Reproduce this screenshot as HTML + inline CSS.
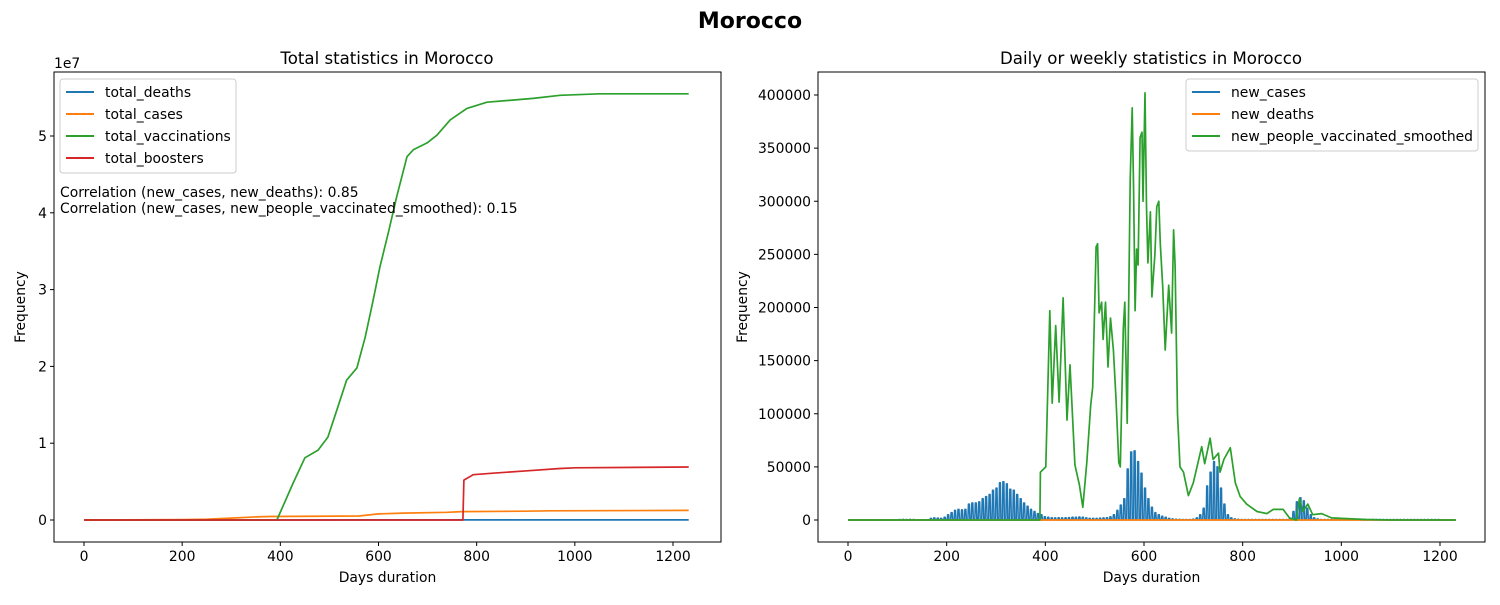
<!DOCTYPE html>
<html><head><meta charset="utf-8"><style>
body{margin:0;background:#fff}
svg text{font-family:"DejaVu Sans","Liberation Sans",sans-serif}
</style></head><body>
<svg id="c" width="1500" height="600" xmlns="http://www.w3.org/2000/svg">
<rect width="1500" height="600" fill="#fff"/>
<text x="750" y="28" text-anchor="middle" font-size="22" font-weight="bold">Morocco</text>
<text x="387" y="64" text-anchor="middle" font-size="16.6">Total statistics in Morocco</text>
<text x="1151" y="64" text-anchor="middle" font-size="16.6">Daily or weekly statistics in Morocco</text>
<g id="L"></g><g id="R"></g>
</svg>
<script>
// ---- left chart data (day, value) ----
const vaccDays=[0,393,426,450,477,497,515,535,556,573,589,603,620,637,658,671,699,719,746,780,821,915,970,1050,1232];
const vaccVals=[0,0,4.8e6,8.1e6,9.1e6,10.8e6,14.3e6,18.2e6,19.8e6,23.8e6,28.6e6,33e6,37.4e6,42.1e6,47.3e6,48.2e6,49.1e6,50.1e6,52.1e6,53.6e6,54.4e6,54.9e6,55.3e6,55.5e6,55.5e6];
const boostDays=[0,772,774,793,833,903,970,1000,1232];
const boostVals=[0,0,5.2e6,5.9e6,6.1e6,6.4e6,6.7e6,6.8e6,6.9e6];
const casesDays=[0,200,250,300,350,380,560,600,650,740,770,900,950,1232];
const casesVals=[0,50000,100000,250000,400000,450000,520000,800000,900000,1000000,1100000,1150000,1200000,1250000];
const deathsDays=[0,300,600,800,1232];
const deathsVals=[0,5000,10000,15000,16300];
// ---- right chart data ----
const weeklyStart=105;
const newCases=[500,600,500,600,500,300,200,200,300,1500,2000,1800,1500,2500,5000,7000,9000,10000,9500,10000,15000,16000,16000,17000,20000,22000,24000,28000,30000,35000,36000,34000,29000,28000,24000,20000,16000,13000,10000,8000,6000,5000,3000,2500,2200,2000,2200,2000,2100,2300,2500,2500,2800,2500,2000,1500,1500,1500,1800,2000,2200,3000,5000,9000,14000,20000,48000,64000,65000,55000,44000,30000,20000,12000,7000,5000,3500,2500,1500,1000,700,600,500,500,500,800,2000,5000,11000,32000,45000,55000,50000,30000,15000,5000,2000,1000,700,500,500,500,500,500,500,500,500,500,500,500,500,500,500,1500,8000,17000,21000,18000,11000,5000,2000,1000,500,500,500,500,500,500,500,500,500,500,500,500,500,500,500,500,500,500,500,500,500,500,500,500,500,500,500,500,500,500,500,500,500,500,500];
const newDeaths=[0,10,20,30,40,60,70,60,40,30,20,20,30,50,100,120,110,100,80,50,30,20,10,10,20,30,20,10,5,5,5,5,5,5,5,5,5,5,5,5,5,5,5,5,5,5,5,5,5,5,5,5,5,5,5,5,5,5,5,5,5,5,5,5,5,5,5,5,5,5,5,5,5,5,5,5,5,5,5,5,5,5,5,5,5,5,5,5,5,5,5,5,5,5,5,5,5,5,5,5,5,5,5,5,5,5,5,5,5,5,5,5,5,5,5,5,5,5,5,5,5,5,5,5,5,5,5,5,5,5,5,5,5,5,5,5,5,5,5,5,5,5,5,5,5,5,5,5,5,5,5,5,5,5,5,5,5,5,5,5,5];
const vacDays=[0,389,390,401,409,414,421,428,436,444,450,460,469,476,484,492,496,503,506,509,514,517,522,527,532,538,543,549,552,558,561,566,572,576,579,582,585,588,592,596,598,602,605,608,613,616,622,626,630,633,638,643,650,656,660,663,668,673,680,690,700,717,723,734,740,751,754,762,775,785,795,808,829,849,862,882,895,909,915,922,932,942,960,980,1000,1050,1100,1232];
const vacVals=[0,0,45000,50000,197000,110000,183000,111000,209000,94000,146000,52000,33000,12000,54000,108000,125000,257000,260000,195000,205000,170000,205000,144000,190000,160000,116000,54000,50000,180000,205000,91000,320000,388000,310000,197000,255000,240000,360000,365000,300000,402000,295000,242000,290000,210000,250000,295000,300000,260000,220000,160000,221000,176000,273000,240000,100000,50000,45000,23000,35000,69000,53000,77000,57000,63000,45000,57000,68000,35000,22000,15000,8000,6000,10000,10000,2000,0,20000,8000,15000,5000,6000,2000,1500,500,0,0];
const leftTicksY=[0,1,2,3,4,5];
const rightTicksY=[0,50000,100000,150000,200000,250000,300000,350000,400000];
const ticksX=[0,200,400,600,800,1000,1200];

const FS=13.9;
const NS="http://www.w3.org/2000/svg";
function mk(p,t,a){const e=document.createElementNS(NS,t);for(const k in a)e.setAttribute(k,a[k]);p.appendChild(e);return e;}
function frame(g,x0,x1,y0,y1,xs,ys,yt,fmt,side){
 mk(g,'rect',{x:x0,y:y0,width:x1-x0,height:y1-y0,fill:'none',stroke:'#000','stroke-width':1});
 ticksX.forEach(v=>{const x=xs(v);
  mk(g,'line',{x1:x,x2:x,y1:y1,y2:y1+4,stroke:'#000'});
  const l=mk(g,'text',{x:x,y:y1+19,'text-anchor':'middle','font-size':FS});l.textContent=v;
  
  
 });
 yt.forEach(v=>{const y=ys(v);
  mk(g,'line',{x1:x0-4,x2:x0,y1:y,y2:y,stroke:'#000'});
  const l=mk(g,'text',{x:x0-7,y:y+5,'text-anchor':'end','font-size':FS});l.textContent=fmt(v);
  
  
 });
 const xl=mk(g,'text',{x:(x0+x1)/2,y:582,'text-anchor':'middle','font-size':FS});xl.textContent='Days duration';
 
 
 const cy=(y0+y1)/2;const yl=mk(g,'text',{x:0,y:0,'text-anchor':'middle','font-size':FS,transform:`translate(${side},${cy}) rotate(-90)`});yl.textContent='Frequency';
 
 
}
function line(g,pts,col,name,w){const p=mk(g,'polyline',{points:pts.map(q=>q[0].toFixed(1)+','+q[1].toFixed(1)).join(' '),fill:'none',stroke:col,'stroke-width':w||1.7,'stroke-linejoin':'round'});
 
 }
function legend(g,x,y,w,items){
 mk(g,'rect',{x:x,y:y,width:w,height:items.length*22+6,rx:3,fill:'#fff','fill-opacity':0.8,stroke:'#ccc'});
 items.forEach((it,i)=>{const yy=y+13+i*22;
  mk(g,'line',{x1:x+6,x2:x+34,y1:yy,y2:yy,stroke:it[1],'stroke-width':2});
  const t=mk(g,'text',{x:x+45,y:yy+5,'font-size':FS});t.textContent=it[0];
  
  
 });
}
// Left
const L=document.getElementById('L');
const lx=d=>84+d*(673-84)/1200, ly=v=>520-v/1e7*76.8;
frame(L,54,721,72,542,lx,v=>ly(v*1e7),leftTicksY,v=>v,25);
const e7=mk(L,'text',{x:54,y:68,'font-size':FS});e7.textContent='1e7';


line(L,deathsDays.map((d,i)=>[lx(d),ly(deathsVals[i])]),'#1f77b4','total-deaths-line');
line(L,casesDays.map((d,i)=>[lx(d),ly(casesVals[i])]),'#ff7f0e','total-cases-line');
line(L,vaccDays.map((d,i)=>[lx(d),ly(vaccVals[i])]),'#2ca02c','total-vaccinations-line');
line(L,boostDays.map((d,i)=>[lx(d),ly(boostVals[i])]),'#d62728','total-boosters-line');
legend(L,60,79,176,[['total_deaths','#1f77b4'],['total_cases','#ff7f0e'],['total_vaccinations','#2ca02c'],['total_boosters','#d62728']]);
const c1=mk(L,'text',{x:60,y:197,'font-size':FS});c1.textContent='Correlation (new_cases, new_deaths): 0.85';


const c2=mk(L,'text',{x:60,y:213,'font-size':FS});c2.textContent='Correlation (new_cases, new_people_vaccinated_smoothed): 0.15';


// Right
const R=document.getElementById('R');
const rx=d=>848+d*(1440-848)/1200, ry=v=>520-v*425/400000;
frame(R,818,1485,72,542,rx,ry,rightTicksY,v=>v,747);
let cp=[[rx(0),ry(0)]];
newCases.forEach((v,i)=>{const d=weeklyStart+i*7;cp.push([rx(d-2),ry(0)],[rx(d-1),ry(v)],[rx(d+1),ry(v)],[rx(d+2),ry(0)]);});
cp.push([rx(1232),ry(0)]);
line(R,cp,'#1f77b4','new-cases-line',1.5);
let dp=[[rx(0),ry(0)]];
newDeaths.forEach((v,i)=>{const d=weeklyStart+i*7;dp.push([rx(d-1),ry(0)],[rx(d),ry(v)],[rx(d+1),ry(0)]);});
dp.push([rx(1232),ry(0)]);
line(R,dp,'#ff7f0e','new-deaths-line');
line(R,vacDays.map((d,i)=>[rx(d),ry(vacVals[i])]),'#2ca02c','new-people-vaccinated-line');
legend(R,1186,79,292,[['new_cases','#1f77b4'],['new_deaths','#ff7f0e'],['new_people_vaccinated_smoothed','#2ca02c']]);
</script>
</body></html>
